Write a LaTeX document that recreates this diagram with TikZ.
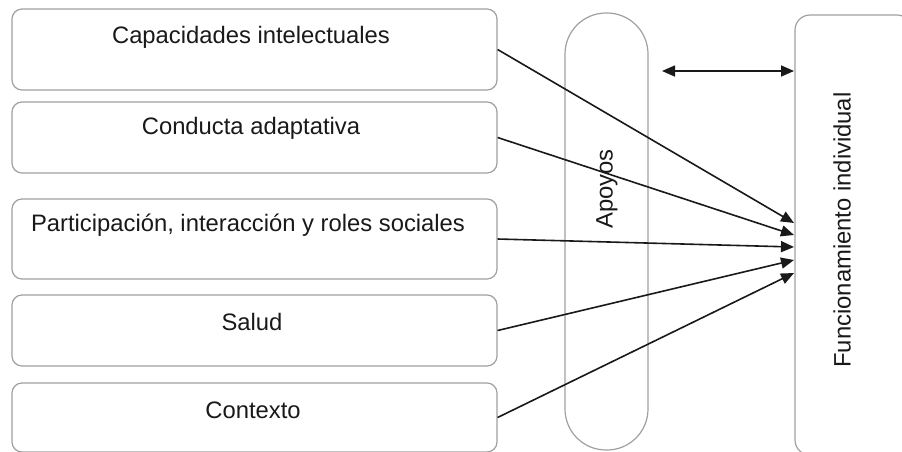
\documentclass[tikz,border=0pt]{standalone}
\usepackage{fontspec}
\setmainfont{Liberation Sans}
\usetikzlibrary{arrows.meta}
\begin{document}
\begin{tikzpicture}[x=1pt,y=-1pt,
  inbox/.style={draw=boxgray, line width=1.2pt, rounded corners=10pt, inner sep=0pt, minimum width=485pt},
  lbl/.style={inner sep=0pt, font=\fontsize{23.8}{28}\selectfont, text=black!90},
  conn/.style={draw=black!90, line width=1.6pt, -{Triangle[length=13pt,width=11pt]}}]
\definecolor{boxgray}{RGB}{160,160,160}
\useasboundingbox (0,0) rectangle (902,451);
\clip (0,0) rectangle (902,451);
% left boxes
\node[inbox, minimum height=81pt] (b1) at (254.5,49.5) {};
\node[inbox, minimum height=71pt] (b2) at (254.5,137.5) {};
\node[inbox, minimum height=80pt] (b3) at (254.5,239) {};
\node[inbox, minimum height=71pt] (b4) at (254.5,330.5) {};
\node[inbox, minimum height=69pt] (b5) at (254.5,417.5) {};
\node[lbl] (t1) at (251,37) {Capacidades intelectuales};
\node[lbl] (t2) at (251,128) {Conducta adaptativa};
\node[lbl] (t3) at (248,225) {Participación, interacción y roles sociales};
\node[lbl] (t4) at (252,322) {Salud};
\node[lbl] (t5) at (253,410) {Contexto};
% supports pill
\node[draw=boxgray, line width=1.2pt, rounded corners=41pt, inner sep=0pt, minimum width=83pt, minimum height=437pt] (ap) at (606.5,231.5) {};
\node[lbl, rotate=90] (tap) at (607,189) {Apoyos};
% individual functioning box
\node[draw=boxgray, line width=1.2pt, rounded corners=15pt, inner sep=0pt, minimum width=117pt, minimum height=440pt] (fi) at (853.5,235) {};
\node[lbl, rotate=90] (tfi) at (842,230) {Funcionamiento individual};
% end points on the left side of the functioning box
\coordinate (e1) at (794,223);
\coordinate (e2) at (794,235);
\coordinate (e3) at (794,247);
\coordinate (e4) at (794,260);
\coordinate (e5) at (794,273);
\coordinate (d1) at (662,71);
\coordinate (d2) at (794,71);
% connectors
\draw[conn] (b1.east) -- (e1);
\draw[conn] (b2.east) -- (e2);
\draw[conn] (b3.east) -- (e3);
\draw[conn] (b4.east) -- (e4);
\draw[conn] (b5.east) -- (e5);
\draw[draw=black!90, line width=1.6pt, {Triangle[length=13pt,width=11pt]}-{Triangle[length=13pt,width=11pt]}] (d1) -- (d2);
\end{tikzpicture}
\end{document}
